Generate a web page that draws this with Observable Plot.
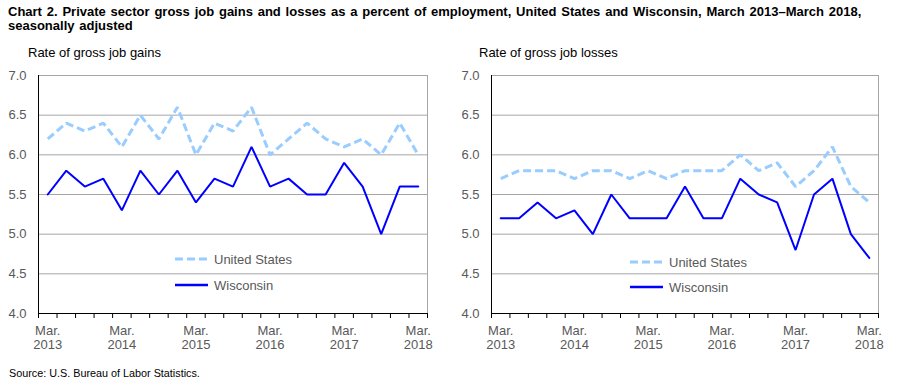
<!DOCTYPE html>
<html>
<head>
<meta charset="utf-8">
<script src="https://cdn.jsdelivr.net/npm/d3@7"></script>
<script src="https://cdn.jsdelivr.net/npm/@observablehq/plot@0.6"></script>
<style>
  body { margin: 0; background: #fff; font-family: "Liberation Sans", Arial, sans-serif; }
  #root { position: relative; width: 901px; height: 385px; overflow: hidden; }
  .abs { position: absolute; white-space: nowrap; }
  #title { left: 8px; top: 5px; font-weight: bold; font-size: 13px; word-spacing: 1.2px; line-height: 14px; color: #000; }
  .sub { font-size: 13px; color: #000; top: 45px; }
  #source { left: 9px; top: 367px; font-size: 10.8px; color: #000; }
  .leg { font-size: 13px; color: #595959; display: flex; align-items: center; }
  .leg svg { margin-right: 6px; }
</style>
</head>
<body>
<div id="root">
  <div id="title" class="abs">Chart 2. Private sector gross job gains and losses as a percent of employment, United States and Wisconsin, March 2013–March 2018,<br>seasonally adjusted</div>
  <div class="abs sub" style="left:28px">Rate of gross job gains</div>
  <div class="abs sub" style="left:479px">Rate of gross job losses</div>
  <div id="source" class="abs">Source: U.S. Bureau of Labor Statistics.</div>
</div>
<script>
// Quarterly periods, March 2013 – March 2018
const quarters = ["Mar 2013","Jun 2013","Sep 2013","Dec 2013","Mar 2014","Jun 2014","Sep 2014","Dec 2014",
  "Mar 2015","Jun 2015","Sep 2015","Dec 2015","Mar 2016","Jun 2016","Sep 2016","Dec 2016",
  "Mar 2017","Jun 2017","Sep 2017","Dec 2017","Mar 2018"];
const tickLabels = ["Mar.\n2013","Mar.\n2014","Mar.\n2015","Mar.\n2016","Mar.\n2017","Mar.\n2018"];
const yTicks = [4.0, 4.5, 5.0, 5.5, 6.0, 6.5, 7.0];
const seriesNames = ["United States", "Wisconsin"];

const gainsUS = [6.2,6.4,6.3,6.4,6.1,6.5,6.2,6.6,6.0,6.4,6.3,6.6,6.0,6.2,6.4,6.2,6.1,6.2,6.0,6.4,6.0];
const gainsWI = [5.5,5.8,5.6,5.7,5.3,5.8,5.5,5.8,5.4,5.7,5.6,6.1,5.6,5.7,5.5,5.5,5.9,5.6,5.0,5.6,5.6];
const lossesUS = [5.7,5.8,5.8,5.8,5.7,5.8,5.8,5.7,5.8,5.7,5.8,5.8,5.8,6.0,5.8,5.9,5.6,5.8,6.1,5.6,5.4];
const lossesWI = [5.2,5.2,5.4,5.2,5.3,5.0,5.5,5.2,5.2,5.2,5.6,5.2,5.2,5.7,5.5,5.4,4.8,5.5,5.7,5.0,4.7];

const US_COLOR = "#99ccff", WI_COLOR = "#0000ff", GRID = "#a6a6a6", TXT = "#595959";

function panel(us, wi, ml, mr) {
  const n = quarters.length;
  const idx = d3.range(n);
  const usData = idx.map(i => ({i, v: us[i]}));
  const wiData = idx.map(i => ({i, v: wi[i]}));
  const labelIdx = idx.filter(i => quarters[i].startsWith("Mar"));
  const boundaries = d3.range(n + 1).map(k => k - 0.5);
  return Plot.plot({
    width: 450, height: 303,
    marginLeft: ml, marginRight: mr, marginTop: 15, marginBottom: 50,
    style: {fontFamily: "Liberation Sans, Arial, sans-serif", fontSize: "13px", background: "transparent"},
    x: {type: "linear", domain: [-0.5, n - 0.5], axis: null},
    y: {domain: [4, 7], axis: null},
    marks: [
      Plot.gridY(yTicks.filter(t => t > 4 && t < 7), {stroke: GRID, strokeOpacity: 1, strokeWidth: 1}),
      Plot.ruleY([7], {stroke: GRID, strokeWidth: 1}),
      Plot.ruleX([n - 0.5], {stroke: GRID, strokeWidth: 1}),
      Plot.axisY({ticks: yTicks, tickFormat: d3.format(".1f"), tickSize: 0, tickPadding: 12, fill: TXT, fontSize: 13, label: null}),
      Plot.axisX({ticks: boundaries, tickFormat: () => "", tickSize: 5, stroke: "#000", strokeOpacity: 1, label: null}),
      Plot.axisX({ticks: labelIdx, tickFormat: (d) => tickLabels[labelIdx.indexOf(d)], tickSize: 0, tickPadding: 11,
                  fill: TXT, fontSize: 13, lineHeight: 1.1, label: null}),
      Plot.ruleX([-0.5], {stroke: "#000", strokeWidth: 1}),
      Plot.ruleY([4], {stroke: "#000", strokeWidth: 1}),
      Plot.line(usData, {x: "i", y: "v", stroke: US_COLOR, strokeWidth: 3, strokeDasharray: "8,4", strokeLinejoin: "miter", strokeLinecap: "butt"}),
      Plot.line(wiData, {x: "i", y: "v", stroke: WI_COLOR, strokeWidth: 2, strokeLinejoin: "miter"})
    ]
  });
}

const root = document.getElementById("root");
function place(el, left, top) {
  el.style.position = "absolute"; el.style.left = left + "px"; el.style.top = top + "px";
  root.appendChild(el);
}
place(panel(gainsUS, gainsWI, 38, 23), 0, 60);
place(panel(lossesUS, lossesWI, 41, 22), 450, 60);

function legend(left, topUS, topWI) {
  const items = [
    {name: seriesNames[0], color: US_COLOR, dash: "8,4", w: 3, top: topUS},
    {name: seriesNames[1], color: WI_COLOR, dash: null, w: 2.5, top: topWI}
  ];
  for (const it of items) {
    const d = document.createElement("div");
    d.className = "abs leg";
    d.style.left = left + "px"; d.style.top = (it.top - 8) + "px"; d.style.height = "16px";
    d.innerHTML = `<svg width="33" height="6"><line x1="0" x2="33" y1="3" y2="3" stroke="${it.color}" stroke-width="${it.w}" ${it.dash ? `stroke-dasharray="${it.dash}"` : ""}/></svg><span>${it.name}</span>`;
    root.appendChild(d);
  }
}
legend(175, 259, 285);
legend(630, 262, 287);
</script>
</body>
</html>
